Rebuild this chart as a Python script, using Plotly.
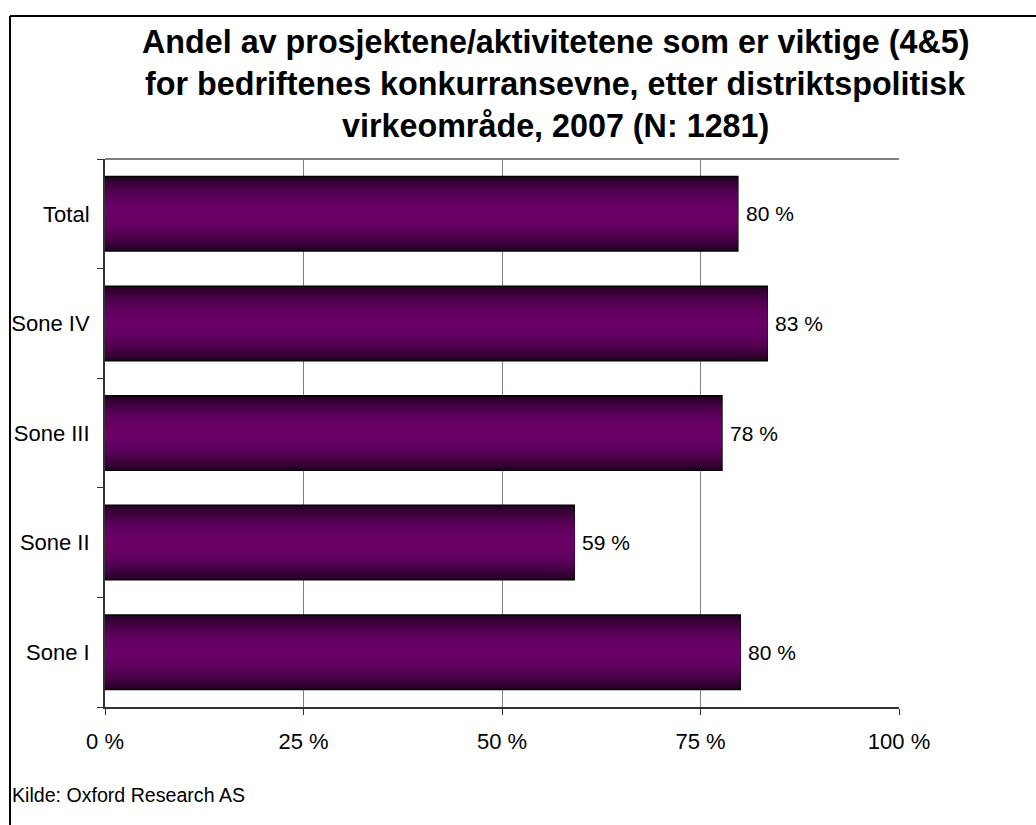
import plotly.graph_objects as go

categories = ["Sone I", "Sone II", "Sone III", "Sone IV", "Total"]
values = [80.0, 59.1, 77.7, 83.4, 79.7]
x_ticks = [0, 25, 50, 75, 100]
title_lines = [
    "Andel av prosjektene/aktivitetene som er viktige (4&5)",
    "for bedriftenes konkurransevne, etter distriktspolitisk",
    "virkeområde, 2007 (N: 1281)",
]
source = "Kilde: Oxford Research AS"

W, H = 1036, 825
ML = 105
MR = W - 899
MT = 159
MB = H - 707
FONT = "Liberation Sans, Arial, sans-serif"

fig = go.Figure()

# layered bars to imitate the vertical gradient (dark edges, bright centre)
N = 14
full_w = 0.68
dark = (38, 0, 38)
bright = (104, 0, 102)
for k in range(N):
    t = k / (N - 1)
    s = 1 - (1 - t) ** 2
    c = tuple(int(round(dark[i] + (bright[i] - dark[i]) * s)) for i in range(3))
    w = full_w * (1 - k / N)
    first = k == 0
    fig.add_trace(go.Bar(
        y=categories, x=values, orientation="h",
        width=w,
        marker=dict(color="rgb(%d,%d,%d)" % c,
                    line=dict(color="black", width=1.5 if first else 0)),
        hoverinfo="skip",
        showlegend=False,
    ))

for cat, v in zip(categories, values):
    fig.add_annotation(
        x=v, y=cat, xref="x", yref="y", text=f"{v:.0f} %",
        xanchor="left", yanchor="middle", xshift=6, showarrow=False,
        font=dict(family=FONT, size=21, color="black"),
    )

fig.update_layout(
    width=W, height=H,
    margin=dict(l=ML, r=MR, t=MT, b=MB, pad=0),
    paper_bgcolor="white", plot_bgcolor="white",
    barmode="overlay",
    font=dict(family=FONT, size=21, color="black"),
    xaxis=dict(
        range=[0, 100], tickvals=x_ticks,
        ticktext=[f"{v} %" for v in x_ticks],
        showgrid=True, gridcolor="#808080", gridwidth=1,
        showline=True, linecolor="#333333", linewidth=2,
        ticks="outside", ticklen=6, tickcolor="#333333",
        tickfont=dict(family=FONT, size=22),
        ticklabelstandoff=8,
        zeroline=False, fixedrange=True,
    ),
    yaxis=dict(
        categoryorder="array", categoryarray=categories,
        showline=True, linecolor="#333333", linewidth=2,
        ticks="outside", ticklen=6, tickcolor="#333333",
        tickson="boundaries",
        tickfont=dict(family=FONT, size=22),
        showgrid=False, zeroline=False,
        ticklabelstandoff=9, fixedrange=True,
    ),
)

def px_x(px):
    return (px - ML) / (W - ML - MR)
def px_y(py):
    return 1 - (py - MT) / (H - MT - MB)

# plot-area top border (gray)
fig.add_shape(type="line", xref="paper", yref="paper", x0=0, x1=1, y0=1, y1=1,
              line=dict(color="#808080", width=2))
# outer chart frame (top and left edges visible)
fig.add_shape(type="line", xref="paper", yref="paper",
              x0=px_x(10), x1=px_x(1050), y0=px_y(16), y1=px_y(16),
              line=dict(color="black", width=2))
fig.add_shape(type="line", xref="paper", yref="paper",
              x0=px_x(10), x1=px_x(10), y0=px_y(16), y1=px_y(840),
              line=dict(color="black", width=2))

baselines = [52, 94, 136]
for line, yb in zip(title_lines, baselines):
    fig.add_annotation(
        text="<b>%s</b>" % line, xref="paper", yref="paper",
        x=px_x(555), y=px_y(yb - 10), xanchor="center", yanchor="middle",
        showarrow=False, font=dict(family=FONT, size=32.3, color="black"),
    )

fig.add_annotation(
    text=source, xref="paper", yref="paper",
    x=px_x(10), y=px_y(795), xanchor="left", yanchor="middle",
    showarrow=False, font=dict(family=FONT, size=19.6, color="black"),
)

fig.write_html(
    "out.html",
    config={"displayModeBar": False},
    post_script="document.body.style.margin='0px';document.body.style.overflow='hidden';",
)
